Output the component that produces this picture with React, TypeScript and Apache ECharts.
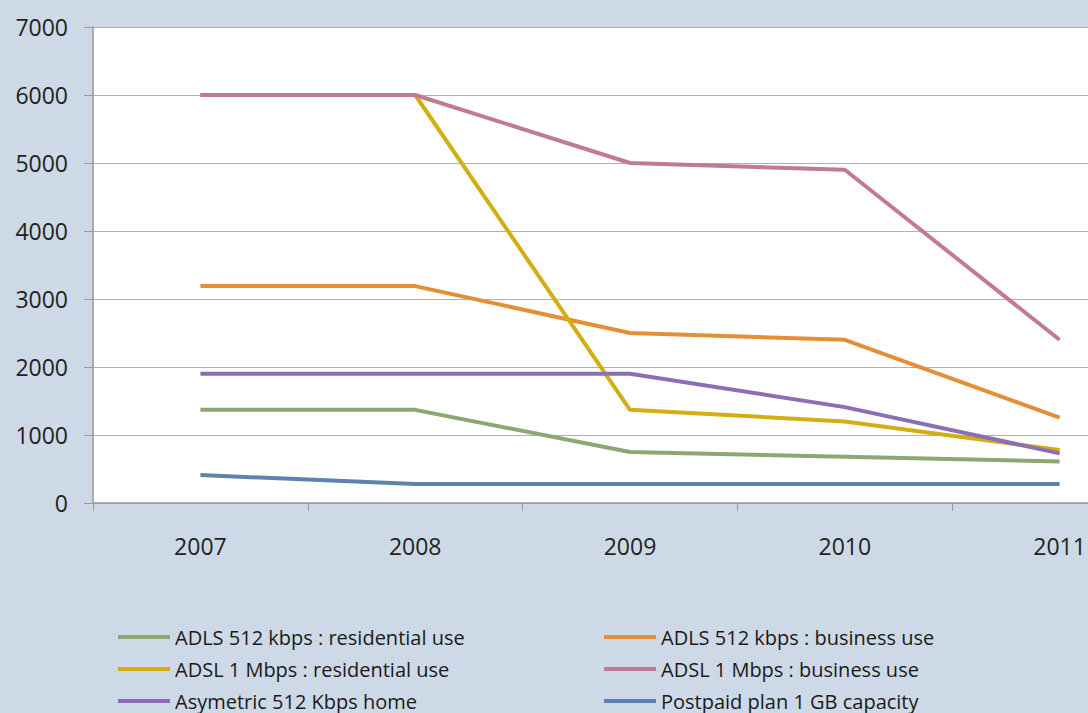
import React, { useEffect, useRef } from "react";
import * as echarts from "echarts";

const years = ["2007", "2008", "2009", "2010", "2011"];
const adls512Res = [1370, 1370, 750, 680, 610];
const adls512Bus = [3190, 3190, 2500, 2400, 1255];
const adsl1Res = [6000, 6000, 1370, 1200, 780];
const adsl1Bus = [6000, 6000, 5000, 4900, 2400];
const asym512Home = [1900, 1900, 1900, 1410, 730];
const postpaid1GB = [410, 280, 280, 280, 280];

const seriesDefs = [
  { name: "ADLS 512 kbps : residential use", data: adls512Res, color: "#8da672" },
  { name: "ADLS 512 kbps : business use", data: adls512Bus, color: "#e28f37" },
  { name: "ADSL 1 Mbps : residential use", data: adsl1Res, color: "#d2ae12" },
  { name: "ADSL 1 Mbps : business use", data: adsl1Bus, color: "#c27a92" },
  { name: "Asymetric 512 Kbps home", data: asym512Home, color: "#8d6db4" },
  { name: "Postpaid plan 1 GB capacity", data: postpaid1GB, color: "#5d82ad" },
];

export default function App() {
  const ref = useRef<HTMLDivElement>(null);
  useEffect(() => {
    const chart = echarts.init(ref.current!, null, { renderer: "svg" });
    const font = "'Open Sans', 'Liberation Sans', sans-serif";
    const legendCommon = {
      orient: "vertical",
      top: 627,
      height: 120,
      padding: 0,
      itemWidth: 52,
      itemHeight: 4,
      itemGap: 12,
      icon: "rect",
      textStyle: { fontSize: 20, lineHeight: 20, color: "#1a1a1a", fontFamily: font },
    };
    chart.setOption({
      animation: false,
      backgroundColor: "#cdd9e6",
      textStyle: { fontFamily: font },
      grid: {
        left: 93,
        top: 27,
        bottom: 210,
        width: 1074,
        outerBoundsMode: "none",
        containLabel: false,
        show: true,
        backgroundColor: "#ffffff",
        borderWidth: 0,
      },
      legend: [
        { ...legendCommon, left: 118, data: [seriesDefs[0].name, seriesDefs[2].name, seriesDefs[4].name] },
        { ...legendCommon, left: 604, data: [seriesDefs[1].name, seriesDefs[3].name, seriesDefs[5].name] },
      ],
      xAxis: {
        type: "category",
        data: years,
        boundaryGap: true,
        axisLine: { lineStyle: { color: "#999999", width: 1.5 } },
        axisTick: { show: true, length: 8, lineStyle: { color: "#999999" } },
        axisLabel: { fontSize: 23, color: "#222222", margin: 31, fontFamily: font },
      },
      yAxis: {
        type: "value",
        min: 0,
        max: 7000,
        interval: 1000,
        axisLine: { show: true, lineStyle: { color: "#999999", width: 1.5 } },
        axisTick: { show: true, length: 9, lineStyle: { color: "#999999" } },
        axisLabel: {
          fontSize: 23,
          color: "#222222",
          margin: 25,
          fontFamily: font,
          formatter: (v: number) => String(v),
        },
        splitLine: { lineStyle: { color: "#b0b0b0", width: 1.2 } },
      },
      series: seriesDefs.map((s) => ({
        name: s.name,
        type: "line",
        data: s.data,
        showSymbol: false,
        symbol: "none",
        lineStyle: { color: s.color, width: 4 },
        itemStyle: { color: s.color },
      })),
    });
    return () => chart.dispose();
  }, []);
  return (
    <div
      ref={ref}
      style={{ position: "fixed", left: 0, top: 0, width: 1088, height: 713 }}
    />
  );
}
